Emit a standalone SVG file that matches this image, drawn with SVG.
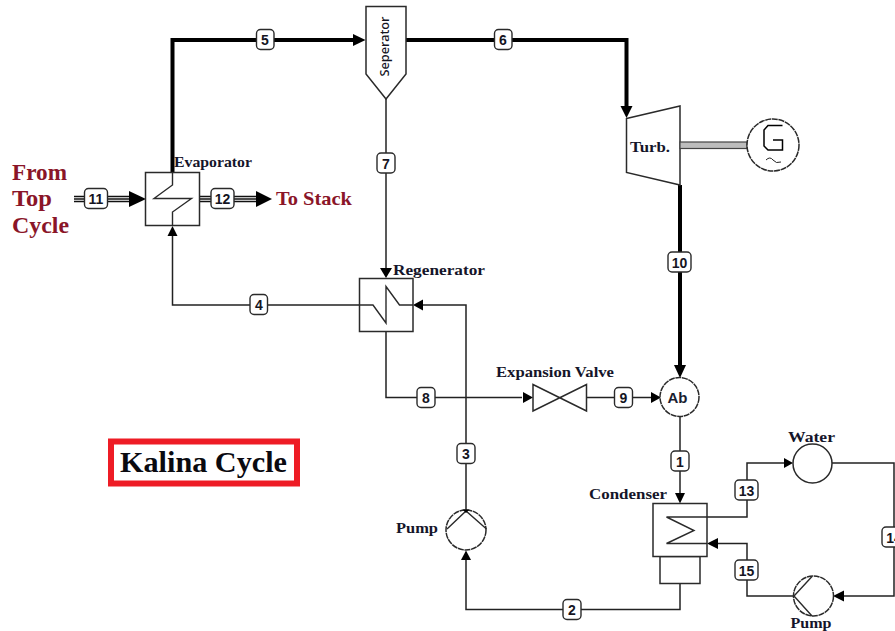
<svg xmlns="http://www.w3.org/2000/svg" width="895" height="631" viewBox="0 0 895 631">
<style>
.n{fill:#fff;stroke:#2a2a2a;stroke-width:1.5}
.o{fill:#fff;stroke:#2a2a2a;stroke-width:1.5;stroke-dasharray:6 .7}
.s{fill:none;stroke:#2a2a2a;stroke-width:1.4}
.c{fill:none;stroke:#222;stroke-width:1.5}
.k{fill:none;stroke:#000;stroke-width:4}
.t{fill:none;stroke:#111;stroke-width:1.3}
.a{fill:#000;stroke:none}
.lb rect{fill:#fff;stroke:#2a2a2a;stroke-width:1.4}
.lb text{font:bold 14px "Liberation Sans",Arial,sans-serif;fill:#15151f;text-anchor:middle}
.l{font:bold 15px "Liberation Serif","Times New Roman",serif;fill:#15152a}
.r{font:bold 23px "Liberation Serif","Times New Roman",serif;fill:#8a1528}
</style>
<g id="connectors">
<path class="k" d="M172.500 172V40H354"/>
<path class="k" d="M406 40H626.500V106"/>
<path class="k" d="M680 185V366"/>
<path class="c" d="M386 99V268"/>
<path class="c" d="M373 305H172.500V236"/>
<path class="c" d="M466 510V305H423"/>
<path class="c" d="M386 331V397.500H522"/>
<path class="c" d="M586.500 397.500H651"/>
<path class="c" d="M680 416V493"/>
<path class="c" d="M680 583.500V609.500H466V560"/>
<path class="c" d="M707 517H747V463H784"/>
<path class="c" d="M832 463H894V596H844"/>
<path class="c" d="M794 596H747V543.500H718"/>
<path class="t" d="M74 196.500H129M74 199H129M74 201.500H129"/>
<path class="t" d="M200 196.500H256M200 199H256M200 201.500H256"/>
<path class="a" d="M365.500 40L353 34V46Z"/>
<path class="a" d="M626.500 118L620.500 106H632.500Z"/>
<path class="a" d="M680 378L674 365H686Z"/>
<path class="a" d="M386 278L380 268H392Z"/>
<path class="a" d="M172.500 226L167.500 236H177.500Z"/>
<path class="a" d="M413 305L423 299.500V310.500Z"/>
<path class="a" d="M533 397.500L523 392V403Z"/>
<path class="a" d="M661 397.500L651 392V403Z"/>
<path class="a" d="M680 503.500L675 493H685Z"/>
<path class="a" d="M466 550.500L461 560H471Z"/>
<path class="a" d="M793 463L784 458V468Z"/>
<path class="a" d="M833 596L844 590.500V601.500Z"/>
<path class="a" d="M707 543.500L718 538V549Z"/>
<path class="a" d="M146 199L129 191V207Z"/>
<path class="a" d="M272 199L256 191V207Z"/>
</g>
<g id="evaporator"><rect class="n" x="145.500" y="172.500" width="54" height="53"/><path class="s" d="M172.500 172.500V185L154 198.500H191.500L172.500 212V225.500"/><text class="l" x="174" y="167" textLength="78" lengthAdjust="spacingAndGlyphs">Evaporator</text></g>
<g id="separator"><path class="n" d="M366 6.500H406V74L386 99L366 74Z"/><text transform="translate(388.500 46.500) rotate(-90)" font-family="Noto Sans,Liberation Sans,sans-serif" font-size="13" font-weight="500" fill="#15151f" text-anchor="middle" textLength="60" lengthAdjust="spacingAndGlyphs">Seperator</text></g>
<g id="turbine"><path class="n" d="M626.500 118.500L680 106V185L626.500 172.500Z"/><text class="l" x="630" y="152" textLength="40" lengthAdjust="spacingAndGlyphs">Turb.</text></g>
<g id="shaft"><rect x="680" y="142" width="67" height="6.500" fill="#bdbdbd" stroke="#444" stroke-width="1.200"/></g>
<g id="generator"><circle class="o" cx="773" cy="145" r="26"/><path fill="none" stroke="#000" stroke-width="1.500" d="M782.500 125.500H768L764 130V146L768 150H782.500V140H773"/><path fill="none" stroke="#222" d="M766 160Q770 156 773 160T781 162"/></g>
<g id="regenerator"><rect class="n" x="359.500" y="278.500" width="53.500" height="53"/><path class="s" d="M359.500 305H373L386 323V286.500L399.500 305H413"/><text class="l" x="393" y="275" textLength="92" lengthAdjust="spacingAndGlyphs">Regenerator</text></g>
<g id="valve"><path class="n" d="M533 384.500L586.500 411V384.500L533 411Z"/><text class="l" x="496" y="377" textLength="118" lengthAdjust="spacingAndGlyphs">Expansion Valve</text></g>
<g id="absorber"><circle class="o" cx="679.500" cy="397" r="19.500"/><text x="677.500" y="403" font-family="Liberation Sans,Arial,sans-serif" font-size="15" font-weight="bold" fill="#1a2030" text-anchor="middle">Ab</text></g>
<g id="condenser"><rect class="n" x="660" y="556.500" width="40" height="27"/><rect class="n" x="653" y="503.500" width="54" height="53"/><path class="s" d="M707 517H666.500L694 530.500L666.500 543.500H707"/><text class="l" x="589" y="499" textLength="78" lengthAdjust="spacingAndGlyphs">Condenser</text></g>
<g id="pump1"><circle class="o" cx="466" cy="530" r="20"/><path class="s" d="M447 529L466 511L486.500 529"/><path class="a" d="M466 513L462.500 509.500H469.500Z"/><text class="l" x="396" y="533" textLength="42" lengthAdjust="spacingAndGlyphs">Pump</text></g>
<g id="water"><circle class="n" cx="812.500" cy="463.500" r="19.500"/><text class="l" x="788" y="442" textLength="47" lengthAdjust="spacingAndGlyphs">Water</text></g>
<g id="pump2"><circle class="o" cx="813.500" cy="596" r="20"/><path class="s" d="M812 576.500L794 596L812 616"/><text class="l" x="790.500" y="627.500" textLength="41" lengthAdjust="spacingAndGlyphs">Pump</text></g>
<g id="labels" class="lb">
<g><rect x="256.500" y="29.500" width="17.500" height="20" rx="4"/><text x="265" y="45">5</text></g>
<g><rect x="494.500" y="29.500" width="17.500" height="20" rx="4"/><text x="503" y="45">6</text></g>
<g><rect x="377" y="153" width="18" height="20" rx="4"/><text x="386" y="168.500">7</text></g>
<g><rect x="250" y="294.500" width="17.500" height="20" rx="4"/><text x="259" y="310">4</text></g>
<g><rect x="84.500" y="188.500" width="23" height="20" rx="4"/><text x="96" y="204">11</text></g>
<g><rect x="211" y="188.500" width="23" height="20" rx="4"/><text x="222.500" y="204">12</text></g>
<g><rect x="668" y="252" width="23" height="20" rx="4"/><text x="679.500" y="267.500">10</text></g>
<g><rect x="417" y="387.500" width="18" height="20" rx="4"/><text x="426" y="403">8</text></g>
<g><rect x="614.500" y="387.500" width="18" height="20" rx="4"/><text x="623.500" y="403">9</text></g>
<g><rect x="457" y="443.500" width="18" height="20" rx="4"/><text x="466" y="459">3</text></g>
<g><rect x="671" y="451" width="18" height="20" rx="4"/><text x="680" y="466.500">1</text></g>
<g><rect x="563" y="599.500" width="18" height="20" rx="4"/><text x="572" y="615">2</text></g>
<g><rect x="735" y="480" width="23" height="20" rx="4"/><text x="746.500" y="495.500">13</text></g>
<g><rect x="735" y="560" width="23" height="20" rx="4"/><text x="746.500" y="575.500">15</text></g>
<g><rect x="882" y="527" width="24" height="20" rx="4"/><text x="894" y="542.500">14</text></g>
</g>
<g id="from-top-cycle"><text class="r" x="12" y="180" textLength="55" lengthAdjust="spacingAndGlyphs">From</text><text class="r" x="12" y="206" textLength="40" lengthAdjust="spacingAndGlyphs">Top</text><text class="r" x="12" y="233" textLength="57" lengthAdjust="spacingAndGlyphs">Cycle</text></g>
<g id="to-stack"><text font-family="Liberation Serif,Times New Roman,serif" font-weight="bold" font-size="19" fill="#8a1528" x="276" y="205" textLength="76" lengthAdjust="spacingAndGlyphs">To Stack</text></g>
<g id="title"><rect x="111" y="441.500" width="186" height="42" fill="#fff" stroke="#ee1c25" stroke-width="6"/><text x="120" y="472" font-family="Liberation Serif,Times New Roman,serif" font-weight="bold" font-size="30" fill="#0a0a10" textLength="167" lengthAdjust="spacingAndGlyphs">Kalina Cycle</text></g>
</svg>
